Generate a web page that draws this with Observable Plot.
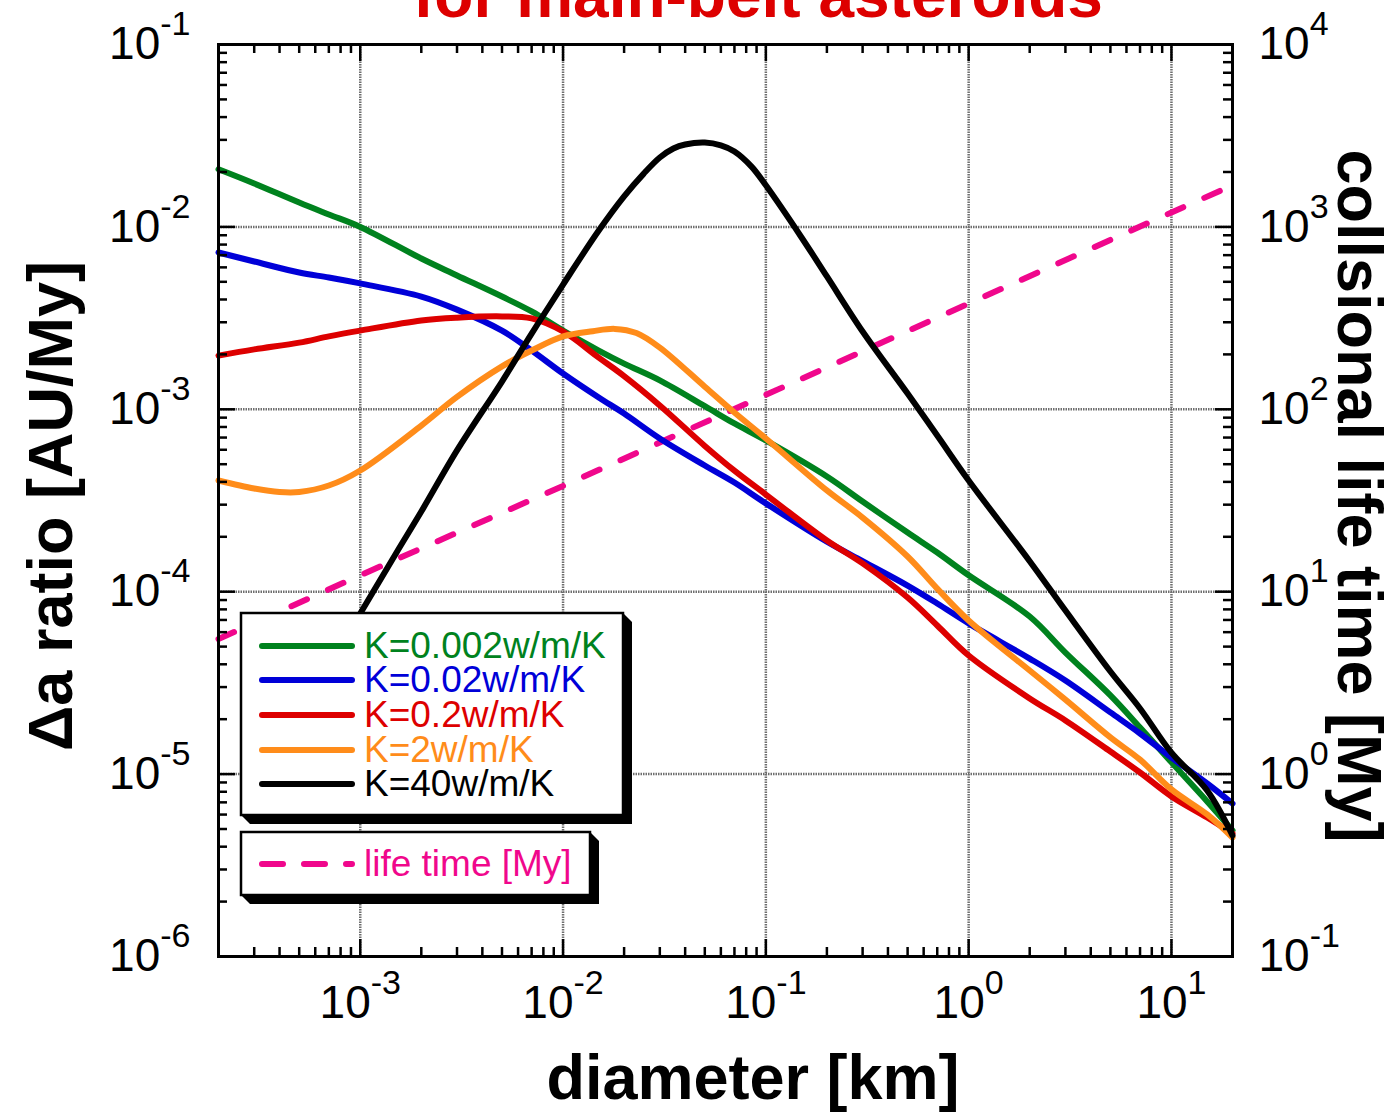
<!DOCTYPE html>
<html>
<head>
<meta charset="utf-8">
<script src="https://cdn.jsdelivr.net/npm/d3@7"></script>
<script src="https://cdn.jsdelivr.net/npm/@observablehq/plot@0.6"></script>
<style>
  body { margin: 0; background: #fff; }
  #chart svg { display: block; font-family: "Liberation Sans", Arial, Helvetica, sans-serif; }
</style>
</head>
<body>
<div id="chart"></div>
<script>
// ---------------- data ----------------
const diam = [2e-4, 3e-4, 5e-4, 7e-4, 1e-3, 2e-3, 3e-3, 5e-3, 7e-3, 1e-2, 1.5e-2, 2e-2, 3e-2, 5e-2, 7e-2,
              0.1, 0.2, 0.3, 0.5, 0.7, 1, 2, 3, 5, 7, 10, 15, 20];
const daK0002 = [2.07e-2, 1.73e-2, 1.36e-2, 1.17e-2, 1.00e-2, 6.71e-3, 5.42e-3, 4.15e-3, 3.44e-3, 2.70e-3, 2.10e-3,
                 1.78e-3, 1.44e-3, 1.04e-3, 8.36e-4, 6.75e-4, 4.28e-4, 3.12e-4, 2.11e-4, 1.64e-4, 1.23e-4, 7.31e-5,
                 4.64e-5, 2.70e-5, 1.80e-5, 1.16e-5, 7.08e-6, 4.91e-6];
const daK002 = [7.24e-3, 6.46e-3, 5.62e-3, 5.28e-3, 4.90e-3, 4.15e-3, 3.52e-3, 2.70e-3, 2.10e-3, 1.57e-3, 1.16e-3,
                9.48e-4, 6.92e-4, 4.92e-4, 3.97e-4, 3.05e-4, 1.88e-4, 1.47e-4, 1.08e-4, 8.61e-5, 6.70e-5, 4.30e-5,
                3.26e-5, 2.18e-5, 1.67e-5, 1.23e-5, 8.88e-6, 6.90e-6];
const daK02 = [1.97e-3, 2.13e-3, 2.32e-3, 2.51e-3, 2.70e-3, 3.07e-3, 3.18e-3, 3.23e-3, 3.15e-3, 2.67e-3, 1.92e-3,
               1.52e-3, 1.05e-3, 6.30e-4, 4.61e-4, 3.41e-4, 1.91e-4, 1.43e-4, 9.29e-5, 6.53e-5, 4.47e-5, 2.60e-5,
               1.97e-5, 1.33e-5, 1.02e-5, 7.54e-6, 5.78e-6, 4.72e-6];
const diamK2 = [2e-4, 3e-4, 4e-4, 5e-4, 7e-4, 1e-3, 2e-3, 3e-3, 5e-3, 7e-3, 1e-2, 1.4e-2, 1.8e-2, 2.3e-2, 3e-2, 5e-2,
                7e-2, 0.1, 0.2, 0.3, 0.5, 0.7, 1, 2, 3, 5, 7, 10, 15, 20];
const daK2 = [4.07e-4, 3.68e-4, 3.52e-4, 3.52e-4, 3.82e-4, 4.62e-4, 8.15e-4, 1.17e-3, 1.72e-3, 2.10e-3, 2.51e-3,
              2.68e-3, 2.76e-3, 2.62e-3, 2.18e-3, 1.33e-3, 9.60e-4, 6.92e-4, 3.59e-4, 2.55e-4, 1.56e-4, 1.04e-4,
              6.95e-5, 3.70e-5, 2.56e-5, 1.59e-5, 1.20e-5, 8.24e-6, 6.01e-6, 4.49e-6];
const diamK40 = [5e-4, 7e-4, 1e-3, 1.5e-3, 2e-3, 3e-3, 5e-3, 7e-3, 1e-2, 1.5e-2, 2e-2, 2.5e-2, 3e-2, 3.5e-2, 4e-2,
                 5e-2, 6e-2, 7e-2, 8.5e-2, 0.1, 0.15, 0.2, 0.3, 0.5, 0.7, 1, 2, 3, 5, 7, 10, 15, 20];
const daK40 = [2.09e-5, 3.94e-5, 7.59e-5, 1.62e-4, 2.75e-4, 5.95e-4, 1.42e-3, 2.60e-3, 4.83e-3, 9.55e-3, 1.47e-2,
               1.96e-2, 2.40e-2, 2.69e-2, 2.83e-2, 2.90e-2, 2.80e-2, 2.59e-2, 2.14e-2, 1.69e-2, 8.75e-3, 5.35e-3,
               2.67e-3, 1.22e-3, 7.18e-4, 4.07e-4, 1.47e-4, 7.88e-5, 3.65e-5, 2.29e-5, 1.31e-5, 8.13e-6, 4.61e-6];
const lifeDiam = [2e-4, 1e-3, 1e-2, 0.1, 1, 10, 20];
const lifeTimeMy = [5.5, 12.3, 38, 120, 380, 1200, 1690];

const seriesNames = ["K=0.002w/m/K", "K=0.02w/m/K", "K=0.2w/m/K", "K=2w/m/K", "K=40w/m/K"];
const seriesColors = ["#00821e", "#0000d8", "#dd0000", "#ff8c1a", "#000000"];
const lifeName = "life time [My]";
const lifeColor = "#f0078c";

const xMajor = [1e-3, 1e-2, 1e-1, 1, 10];
const xTickLabels = ["10^-3", "10^-2", "10^-1", "10^0", "10^1"];
const yMajor = [1e-6, 1e-5, 1e-4, 1e-3, 1e-2, 1e-1];
const yTickLabels = ["10^-6", "10^-5", "10^-4", "10^-3", "10^-2", "10^-1"];
const yRightTickLabels = ["10^-1", "10^0", "10^1", "10^2", "10^3", "10^4"];
const rightAxisFactor = 1e5; // right axis value = left axis value * 1e5

const titleText = "for main-belt asteroids";
const xTitle = "diameter [km]";
const yTitle = "\u0394a ratio [AU/My]";
const y2Title = "collsional life time [My]";

// ---------------- layout ----------------
const W = 1395, H = 1113;
const mL = 218, mR = 163, mT = 44, mB = 157;
const innerW = W - mL - mR, innerH = H - mT - mB;

const seriesData = [
  {color: seriesColors[0], data: diam.map((d, i) => ({D: d, V: daK0002[i]}))},
  {color: seriesColors[1], data: diam.map((d, i) => ({D: d, V: daK002[i]}))},
  {color: seriesColors[2], data: diam.map((d, i) => ({D: d, V: daK02[i]}))},
  {color: seriesColors[3], data: diamK2.map((d, i) => ({D: d, V: daK2[i]}))},
  {color: seriesColors[4], data: diamK40.map((d, i) => ({D: d, V: daK40[i]}))}
];
const lifeData = lifeDiam.map((d, i) => ({D: d, T: lifeTimeMy[i]}));

const xMinor = [], yMinor = [];
for (let k = -4; k <= 1; k++) for (let m = 2; m <= 9; m++) {
  const v = m * Math.pow(10, k);
  if (v > 2.05e-4 && v < 19.5) xMinor.push(v);
}
for (let k = -6; k <= -2; k++) for (let m = 2; m <= 9; m++) yMinor.push(m * Math.pow(10, k));

const tickStyle = {stroke: "#000", strokeWidth: 2.5};
const gridStyle = {stroke: "#6e6e6e", strokeWidth: 2.5, strokeDasharray: "1.5,1"};

const chart = Plot.plot({
  width: W, height: H,
  marginLeft: mL, marginRight: mR, marginTop: mT, marginBottom: mB,
  x: {type: "log", domain: [2e-4, 20], axis: null},
  y: {type: "log", domain: [1e-6, 1e-1], axis: null},
  style: {fontFamily: '"Liberation Sans", Arial, Helvetica, sans-serif', background: "#fff"},
  marks: [
    Plot.ruleX(xMajor, {x: d => d, ...gridStyle}),
    Plot.ruleY(yMajor.slice(1, -1), {y: d => d, ...gridStyle}),
    Plot.line(lifeData, {x: "D", y: d => d.T / rightAxisFactor, stroke: lifeColor, strokeWidth: 6,
      strokeDasharray: "17,23", strokeLinecap: "round"}),
    ...seriesData.map(s => Plot.line(s.data, {x: "D", y: "V", stroke: s.color, strokeWidth: 6,
      curve: "catmull-rom", strokeLinecap: "round", strokeLinejoin: "round"})),
    // inward ticks on all four sides
    Plot.tickX(xMinor, {x: d => d, insetTop: innerH - 9, ...tickStyle}),
    Plot.tickX(xMinor, {x: d => d, insetBottom: innerH - 9, ...tickStyle}),
    Plot.tickX(xMajor, {x: d => d, insetTop: innerH - 17, ...tickStyle}),
    Plot.tickX(xMajor, {x: d => d, insetBottom: innerH - 17, ...tickStyle}),
    Plot.tickY(yMinor, {y: d => d, insetRight: innerW - 9, ...tickStyle}),
    Plot.tickY(yMinor, {y: d => d, insetLeft: innerW - 9, ...tickStyle}),
    Plot.tickY(yMajor, {y: d => d, insetRight: innerW - 17, ...tickStyle}),
    Plot.tickY(yMajor, {y: d => d, insetLeft: innerW - 17, ...tickStyle}),
    Plot.frame({stroke: "#000", strokeWidth: 3}),
    // tick labels
    Plot.text(xMajor, {x: d => d, frameAnchor: "bottom", dy: 47, text: (d, i) => xTickLabels[i],
      fontSize: 46, textAnchor: "middle", lineAnchor: "middle", fill: "#000"}),
    Plot.text(yMajor, {y: d => d, frameAnchor: "left", dx: -28, text: (d, i) => yTickLabels[i],
      fontSize: 46, textAnchor: "end", lineAnchor: "middle", fill: "#000"}),
    Plot.text(yMajor, {y: d => d, frameAnchor: "right", dx: 26, text: (d, i) => yRightTickLabels[i],
      fontSize: 46, textAnchor: "start", lineAnchor: "middle", fill: "#000"})
  ]
});

document.getElementById("chart").appendChild(chart);
const svg = d3.select(chart);
svg.attr("overflow", "hidden");

// superscripts
svg.selectAll("text").each(function () {
  const m = /^10\^(-?\d+)$/.exec(this.textContent);
  if (m) {
    const t = d3.select(this);
    t.text(null);
    t.append("tspan").text("10");
    t.append("tspan").attr("dy", -24).attr("font-size", 34).text(m[1]);
  }
});

// legend boxes
const font = '"Liberation Sans", Arial, Helvetica, sans-serif';
const g = svg.append("g").attr("text-anchor", "start").attr("font-family", font);
function box(x, y, w, h) {
  const d = 9;
  g.append("polygon")
    .attr("points", [[x + w, y], [x + w + d, y + d], [x + w + d, y + h + d], [x + d, y + h + d], [x, y + h]].map(p => p.join(",")).join(" "))
    .attr("fill", "#000");
  g.append("rect").attr("x", x).attr("y", y).attr("width", w).attr("height", h)
    .attr("fill", "#fff").attr("stroke", "#000").attr("stroke-width", 2.5);
}
box(241, 613, 382, 202);
const rowY = [646, 680, 715, 750, 784];
seriesNames.forEach((n, i) => {
  g.append("line").attr("x1", 262).attr("x2", 352).attr("y1", rowY[i]).attr("y2", rowY[i])
    .attr("stroke", seriesColors[i]).attr("stroke-width", 6).attr("stroke-linecap", "round");
  g.append("text").attr("x", 364).attr("y", rowY[i] + 12).attr("font-size", 37)
    .attr("text-anchor", "start").attr("fill", seriesColors[i]).text(n);
});
box(241, 832, 349, 63);
g.append("line").attr("x1", 262).attr("x2", 352).attr("y1", 864).attr("y2", 864)
  .attr("stroke", lifeColor).attr("stroke-width", 6).attr("stroke-linecap", "round")
  .attr("stroke-dasharray", "21,21");
g.append("text").attr("x", 364).attr("y", 876).attr("font-size", 37)
  .attr("text-anchor", "start").attr("fill", lifeColor).text(lifeName);

// titles
const tg = svg.append("g").attr("font-family", font).attr("font-weight", "bold").attr("text-anchor", "middle");
tg.append("text").attr("x", 758).attr("y", 17)
  .attr("font-size", 64).attr("fill", "#dd0000").text(titleText);
tg.append("text").attr("x", 753).attr("y", 1099)
  .attr("font-size", 63).attr("fill", "#000").text(xTitle);
tg.append("text").attr("transform", "translate(72,506) rotate(-90)")
  .attr("font-size", 63).attr("fill", "#000").text(yTitle);
tg.append("text").attr("transform", "translate(1338,496) rotate(90)")
  .attr("font-size", 63).attr("fill", "#000").text(y2Title);
</script>
</body>
</html>
